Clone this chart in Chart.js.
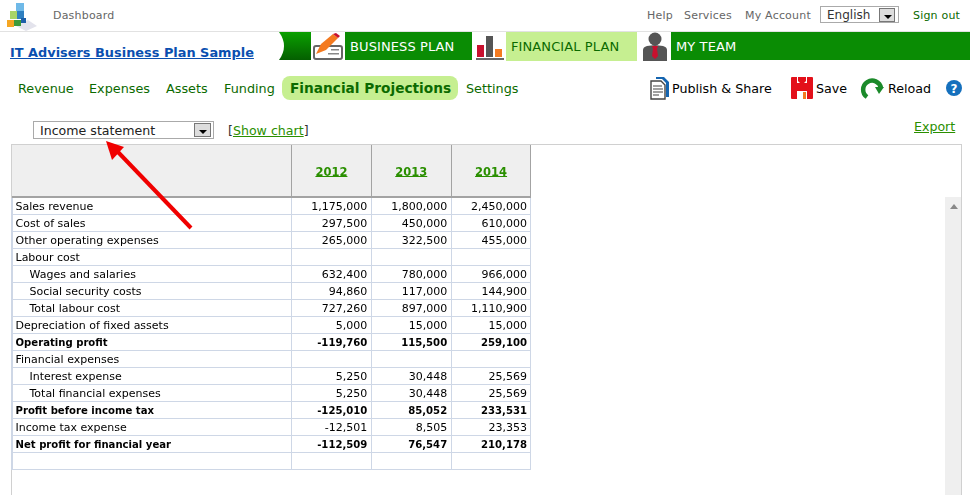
<!DOCTYPE html>
<html>
<head>
<meta charset="utf-8">
<title>IT Advisers Business Plan Sample</title>
<script src="https://cdn.jsdelivr.net/npm/chart.js@4"></script>
<style>
  html, body { margin: 0; padding: 0; background: #fff; overflow: hidden; }
  body { width: 970px; height: 495px; position: relative; font-family: "DejaVu Sans", Verdana, sans-serif; font-size: 11px; }
  .a { position: absolute; white-space: nowrap; line-height: 1; }
  .grey { color: #666; letter-spacing: .2px; }
  .nav { color: #0b6a00; font-size: 12.8px; top: 83px; }
  .act { color: #000; font-size: 12.7px; top: 83px; }
  .tab { color: #fff; font-size: 13px; top: 40px; letter-spacing: .1px; }
  .lnk { color: #2a8f00; text-decoration: underline; }
  .box { position: absolute; box-sizing: border-box; }
  .sel { position: absolute; box-sizing: border-box; border: 1px solid #aaa; background: #fff; }
  .btn { position: absolute; box-sizing: border-box; border: 1px solid #777; background: #ddd; }
  .btn:after { content: ""; position: absolute; left: 4px; top: 6px; border: 4px solid transparent; border-top: 4px solid #000; }
  svg { position: absolute; overflow: visible; }
  canvas { position: absolute; left: 0; top: 0; }
</style>
</head>
<body>
  <!-- top bar -->
  <svg style="left:6px;top:2px" width="32" height="28" viewBox="0 0 32 28">
    <polygon points="10,24 22,18 31,24 20,29" fill="#e3e3ec"/>
    <rect x="1" y="18" width="7" height="7" fill="#f5a623"/>
    <rect x="8" y="18" width="7" height="6" fill="#3f9a3a"/>
    <rect x="4" y="9" width="7" height="8" fill="#a8d468"/>
    <rect x="11" y="9" width="7" height="8" fill="#2e7fc0"/>
    <rect x="10" y="1" width="8" height="8" fill="#6fb9e8"/>
    <rect x="15" y="16" width="5" height="5" fill="#1d5fa8"/>
  </svg>
  <div class="a grey" style="left:53px;top:10px">Dashboard</div>
  <div class="a grey" style="left:647px;top:10px">Help</div>
  <div class="a grey" style="left:684px;top:10px">Services</div>
  <div class="a grey" style="left:745px;top:10px">My Account</div>
  <div class="sel" style="left:820px;top:6px;width:79px;height:17px"></div>
  <div class="a" style="left:827px;top:9px;font-size:12px;color:#333">English</div>
  <div class="btn" style="left:879px;top:8px;width:16px;height:14px"></div>
  <div class="a" style="left:913px;top:10px;color:#0b6a00;letter-spacing:.2px">Sign out</div>
  <div class="box" style="left:0;top:31px;width:970px;height:1px;background:#e2e2e2"></div>

  <!-- title and plan tabs -->
  <div class="a" style="left:10px;top:47px;font-size:12.9px;font-weight:bold;color:#0a4fb0;text-decoration:underline">IT Advisers Business Plan Sample</div>
  <svg style="left:277px;top:32px" width="34" height="28" viewBox="0 0 34 28">
    <defs><linearGradient id="g" x1="0" y1="0" x2="0" y2="1"><stop offset="0" stop-color="#0aa000"/><stop offset="1" stop-color="#045f00"/></linearGradient></defs>
    <rect width="34" height="28" fill="url(#g)"/>
    <path d="M0 0 H2 Q12 14 2 28 H0 Z" fill="#fff"/>
  </svg>
  <svg style="left:313px;top:33px" width="31" height="27" viewBox="0 0 31 27">
    <rect x="1" y="13" width="28" height="13" rx="2" fill="#fff" stroke="#666" stroke-width="2"/>
    <rect x="18" y="16" width="8" height="1.5" fill="#888"/><rect x="15" y="20" width="11" height="1.5" fill="#888"/>
    <polygon points="3,21 8,11 20,1 25,5 13,17" fill="#f47a20"/>
    <polygon points="20,1 23,0 27,3 25,5" fill="#c8102e"/>
  </svg>
  <div class="box" style="left:345px;top:32px;width:127px;height:28px;background:#0a8c04"></div>
  <div class="a tab" style="left:350px">BUSINESS PLAN</div>
  <svg style="left:476px;top:34px" width="28" height="26" viewBox="0 0 28 26">
    <rect x="1" y="11" width="7" height="12" fill="#c8102e"/>
    <rect x="10" y="2" width="7" height="21" fill="#555"/>
    <rect x="19" y="15" width="7" height="8" fill="#f47a20"/>
    <rect x="0" y="24" width="28" height="2" fill="#666"/>
  </svg>
  <div class="box" style="left:506px;top:32px;width:131px;height:29px;background:#c6ef91"></div>
  <div class="a tab" style="left:511px;color:#0b6a00">FINANCIAL PLAN</div>
  <svg style="left:642px;top:32px" width="26" height="29" viewBox="0 0 26 29">
    <circle cx="13" cy="7" r="6.5" fill="#555"/>
    <path d="M1 29 V18 Q1 15 5 14 L13 13 L21 14 Q25 15 25 18 V29 Z" fill="#555"/>
    <polygon points="10,14 16,14 15,17 16,24 13,27 10,24 11,17" fill="#c8102e"/>
  </svg>
  <div class="box" style="left:671px;top:32px;width:299px;height:28px;background:#0a8c04"></div>
  <div class="a tab" style="left:676px">MY TEAM</div>

  <!-- sub navigation -->
  <div class="a nav" style="left:18px">Revenue</div>
  <div class="a nav" style="left:89px">Expenses</div>
  <div class="a nav" style="left:166px">Assets</div>
  <div class="a nav" style="left:224px">Funding</div>
  <div class="box" style="left:282px;top:76px;width:176px;height:24px;background:#c6ef91;border-radius:8px"></div>
  <div class="a nav" style="left:290px;top:82px;font-size:13.7px;font-weight:bold">Financial Projections</div>
  <div class="a nav" style="left:466px">Settings</div>
  <svg style="left:650px;top:77px" width="20" height="23" viewBox="0 0 20 23">
    <path d="M6 0 H14 L19 5 V20 H16 V6 L12 2 H6 Z" fill="#1565b0"/>
    <path d="M1 4 H11 L15 8 V22 H1 Z" fill="#fff" stroke="#444" stroke-width="1.4"/>
    <path d="M3 9 H12 M3 12 H13 M3 15 H13 M3 18 H9" stroke="#444" stroke-width="1.2"/>
  </svg>
  <div class="a act" style="left:672px">Publish &amp; Share</div>
  <svg style="left:791px;top:77px" width="22" height="22" viewBox="0 0 22 22">
    <path d="M1 0 H6 V6 H16 V0 H21 Q22 0 22 1 V21 Q22 22 21 22 H1 Q0 22 0 21 V1 Q0 0 1 0 Z" fill="#e3101a"/>
    <polygon points="7,0 15,0 15,4 11,8 7,4" fill="#e3101a"/>
    <rect x="6" y="14" width="10" height="8" fill="#fff"/>
    <rect x="12" y="15" width="3" height="7" fill="#f47a20"/>
  </svg>
  <div class="a act" style="left:816px">Save</div>
  <svg style="left:863px;top:78px" width="21" height="20" viewBox="0 0 21 20">
    <path d="M4 19 A9 9 0 1 1 18 10" fill="none" stroke="#1b8a2a" stroke-width="4.5"/>
    <polygon points="12,9 21,9 16,16" fill="#1b8a2a"/>
  </svg>
  <div class="a act" style="left:888px">Reload</div>
  <svg style="left:946px;top:80px" width="16" height="16" viewBox="0 0 16 16">
    <circle cx="8" cy="8" r="8" fill="#1570bd"/>
    <text x="8" y="12.5" text-anchor="middle" font-family="DejaVu Sans" font-size="12" font-weight="bold" fill="#fff">?</text>
  </svg>

  <!-- statement selector -->
  <div class="sel" style="left:33px;top:121px;width:181px;height:18px;border-width:1px"></div>
  <div class="a" style="left:40px;top:125px;font-size:12.6px;color:#222">Income statement</div>
  <div class="btn" style="left:194px;top:123px;width:17px;height:14px"></div>
  <div class="a" style="left:228px;top:125px;font-size:12.6px;color:#333">[<span class="lnk">Show chart</span>]</div>
  <div class="a lnk" style="left:914px;top:121px;font-size:12.6px">Export</div>

  <!-- table frame and scroll bar -->
  <div class="box" style="left:11px;top:144px;width:951px;height:1px;background:#d0d0d0"></div>
  <div class="box" style="left:11px;top:144px;width:1px;height:351px;background:#d0d0d0"></div>
  <div class="box" style="left:961px;top:144px;width:1px;height:351px;background:#d0d0d0"></div>
  <div class="box" style="left:945px;top:197px;width:16px;height:298px;background:#efefef"></div>
  <div class="box" style="left:950px;top:204px;border:4px solid transparent;border-bottom:5px solid #888;border-top:0"></div>

  <canvas id="statementChart" width="970" height="495"></canvas>

  <!-- pointer to the selector -->
  <svg style="left:0;top:0" width="970" height="495">
    <line x1="191" y1="228" x2="117" y2="151" stroke="#f00000" stroke-width="4"/>
    <polygon points="106,141 124,147 112,160" fill="#f00000"/>
  </svg>

<script>
const years = ["2012", "2013", "2014"];

const rows = [
  { label: "Sales revenue", values: [1175000, 1800000, 2450000] },
  { label: "Cost of sales", values: [297500, 450000, 610000] },
  { label: "Other operating expenses", values: [265000, 322500, 455000] },
  { label: "Labour cost", values: [null, null, null] },
  { label: "Wages and salaries", indent: true, values: [632400, 780000, 966000] },
  { label: "Social security costs", indent: true, values: [94860, 117000, 144900] },
  { label: "Total labour cost", indent: true, values: [727260, 897000, 1110900] },
  { label: "Depreciation of fixed assets", values: [5000, 15000, 15000] },
  { label: "Operating profit", bold: true, values: [-119760, 115500, 259100] },
  { label: "Financial expenses", values: [null, null, null] },
  { label: "Interest expense", indent: true, values: [5250, 30448, 25569] },
  { label: "Total financial expenses", indent: true, values: [5250, 30448, 25569] },
  { label: "Profit before income tax", bold: true, values: [-125010, 85052, 233531] },
  { label: "Income tax expense", values: [-12501, 8505, 23353] },
  { label: "Net profit for financial year", bold: true, values: [-112509, 76547, 210178] },
  { label: "", values: [null, null, null] },
];

const FONT = '"DejaVu Sans", Verdana, sans-serif';
const normalFont = { family: FONT, size: 11 };
const boldFont = { family: FONT, size: 10.1, weight: "bold" };
const TEXT_SHIFT = 2; // row text sits a little below the middle of the cell

// one point per table cell, the value text is painted by the plugin below
const datasets = years.map((year, col) => ({
  label: year,
  data: rows
    .filter((row) => row.values[col] !== null)
    .map((row) => ({ x: year, y: row.label, v: row.values[col], bold: row.bold })),
  pointRadius: 0,
  showLine: false,
}));

const tablePlugin = {
  id: "tablePlugin",
  beforeDraw(chart) {
    const { ctx, chartArea, scales } = chart;
    const { left, right, top, bottom } = chartArea;
    const rowH = (bottom - top) / rows.length;
    const colW = (right - left) / years.length;

    ctx.save();
    // header block
    ctx.fillStyle = "#efefef";
    ctx.fillRect(12, 145, right - 12, top - 145);
    ctx.fillStyle = "#a3a3a3";
    ctx.fillRect(12, top - 1, right - 12, 2);
    years.forEach((y, i) => {
      const x = Math.floor(scales.x.getPixelForValue(i) - colW / 2);
      ctx.fillRect(x, 145, 1, top - 145);
    });
    ctx.fillRect(Math.round(right) - 1, 145, 1, top - 145);

    // body grid
    ctx.fillStyle = "#ced7e6";
    rows.forEach((r, i) => {
      const y = Math.round(scales.y.getPixelForValue(i) + rowH / 2);
      ctx.fillRect(12, y, right - 12, 1);
    });
    years.forEach((y, i) => {
      const x = Math.floor(scales.x.getPixelForValue(i) - colW / 2);
      ctx.fillRect(x, top + 1, 1, bottom - top);
    });
    ctx.fillRect(Math.round(right) - 1, top + 1, 1, bottom - top);
    ctx.fillRect(11, top + 1, 2, bottom - top);
    ctx.restore();
  },
  afterDatasetsDraw(chart) {
    const { ctx, scales, chartArea } = chart;
    const colW = (chartArea.right - chartArea.left) / years.length;
    ctx.save();
    ctx.textAlign = "right";
    ctx.textBaseline = "middle";
    ctx.fillStyle = "#000";
    chart.data.datasets.forEach((ds) => {
      ds.data.forEach((cell) => {
        const x = scales.x.getPixelForValue(cell.x) + colW / 2 - 4;
        const y = scales.y.getPixelForValue(cell.y) + TEXT_SHIFT;
        ctx.font = cell.bold
          ? `bold ${boldFont.size}px ${FONT}`
          : `${normalFont.size}px ${FONT}`;
        ctx.fillText(cell.v.toLocaleString("en-US"), x, y);
      });
    });
    ctx.restore();
  },
  afterDraw(chart) {
    // year labels are links in the original
    const { ctx, scales } = chart;
    ctx.save();
    ctx.font = `bold 11.5px ${FONT}`;
    ctx.fillStyle = "#2a8f00";
    years.forEach((year, i) => {
      const w = ctx.measureText(year).width;
      ctx.fillRect(scales.x.getPixelForValue(i) - w / 2, 176, w, 1);
    });
    ctx.restore();
  },
};

new Chart(document.getElementById("statementChart"), {
  type: "scatter",
  data: { datasets },
  plugins: [tablePlugin],
  options: {
    responsive: false,
    animation: false,
    events: [],
    layout: { padding: { left: 15.5, top: 145, right: 439, bottom: 26 } },
    plugins: { legend: { display: false }, tooltip: { enabled: false } },
    scales: {
      x: {
        type: "category",
        labels: years,
        position: "top",
        offset: true,
        afterFit: (scale) => { scale.height = 52; },
        grid: { display: false, drawTicks: false },
        border: { display: false },
        ticks: {
          color: "#2a8f00",
          padding: 17,
          maxRotation: 0,
          font: { family: FONT, size: 11.5, weight: "bold" },
        },
      },
      y: {
        type: "category",
        labels: rows.map((r) => r.label),
        offset: true,
        afterFit: (scale) => { scale.width = 276; },
        grid: { display: false, drawTicks: false },
        border: { display: false },
        ticks: {
          autoSkip: false,
          padding: 0,
          labelOffset: TEXT_SHIFT,
          color: "#000",
          crossAlign: "far",
          font: (c) => (rows[c.index] && rows[c.index].bold ? boldFont : normalFont),
          callback: (v, i) => (rows[i].indent ? "\u00a0\u00a0\u00a0\u00a0" : "") + rows[i].label,
        },
      },
    },
  },
});
</script>
</body>
</html>
